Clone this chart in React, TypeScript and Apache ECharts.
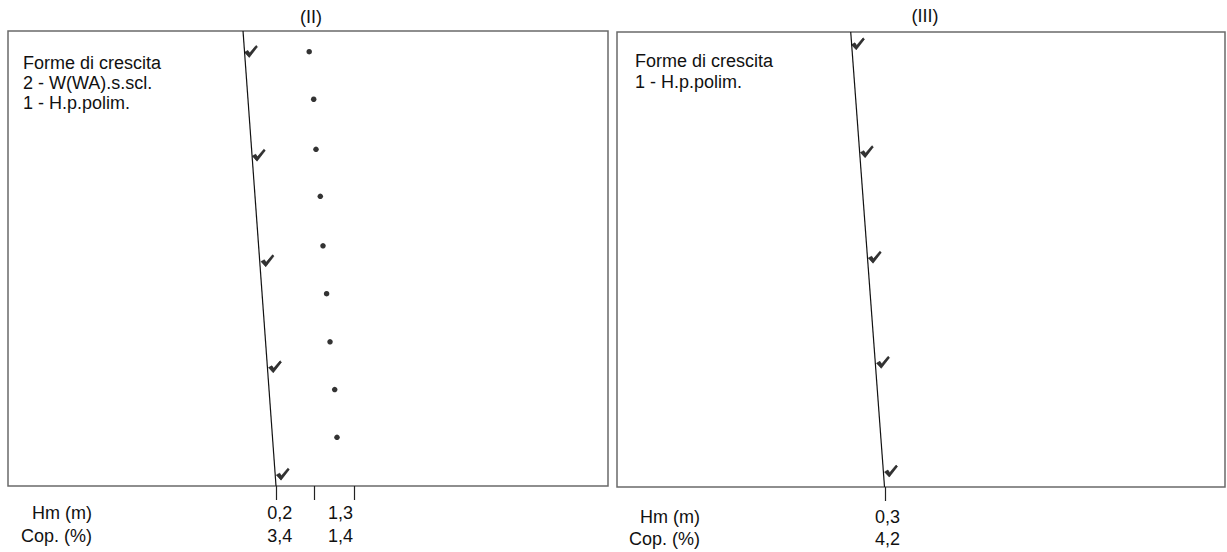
import React, { useEffect, useRef } from "react";
import * as echarts from "echarts";

// ---------- data ----------
const panelTitles = ["(II)", "(III)"];
const legendII = ["Forme di crescita", "2 - W(WA).s.scl.", "1 - H.p.polim."];
const legendIII = ["Forme di crescita", "1 - H.p.polim."];
const rowNames = ["Hm (m)", "Cop. (%)"];

// Panel (II) — positions in % of panel width (x) and height from bottom (y)
const lineII: number[][] = [[39.17, 100], [44.67, 0]];
const checksII: number[][] = [[40.5, 95.5], [41.8, 72.7], [43.25, 49.5], [44.5, 26.2], [45.8, 2.6]];
const dotsII: number[][] = [
  [50.2, 95.45], [50.95, 85.0], [51.33, 74.0], [52.05, 63.67], [52.5, 52.8],
  [53.1, 42.26], [53.67, 31.7], [54.45, 21.2], [54.83, 10.7],
];
const ticksII = [44.67, 51.0, 57.67];
const labelPosII = [45.3, 55.4];
const hmII = ["0,2", "1,3"];
const copII = ["3,4", "1,4"];

// Panel (III)
const lineIII: number[][] = [[38.44, 100], [44.0, 0]];
const checksIII: number[][] = [[39.64, 97.4], [41.1, 73.7], [42.4, 50.5], [43.75, 27.4], [45.07, 3.5]];
const ticksIII = [44.08];
const labelPosIII = [44.49];
const hmIII = ["0,3"];
const copIII = ["4,2"];

const FONT = "'Liberation Sans', Arial, Helvetica, sans-serif";
const INK = "#111";
const CHECK = "path://M0,6.6 L3.3,4.8 L5,7.3 L11.2,0 L12.6,1.3 L4.6,11.6 Z";

function makeXAxis(gridIndex: number, ticks: number[], labelPos: number[], hm: string[], cop: string[], margin: number, lh: number) {
  return {
    type: "value",
    gridIndex,
    min: 0,
    max: 100,
    axisLine: { show: false },
    splitLine: { show: false },
    axisTick: {
      show: true,
      customValues: ticks,
      length: 14,
      lineStyle: { color: "#222", width: 1.2 },
    },
    axisLabel: {
      show: true,
      customValues: labelPos,
      margin,
      fontSize: 18,
      lineHeight: lh,
      fontFamily: FONT,
      color: INK,
      formatter: (v: number) => {
        let i = labelPos.findIndex((p) => Math.abs(p - v) < 1e-6);
        if (i < 0) i = 0;
        return hm[i] + "\n" + cop[i];
      },
    },
  };
}

export default function App() {
  const ref = useRef<HTMLDivElement>(null);
  useEffect(() => {
    document.body.style.margin = "0";
    if (!ref.current) return;
    const chart = echarts.init(ref.current, null, { renderer: "svg" });
    const checkStyle = { color: "#000", borderColor: "#000", borderWidth: 0.6 };
    const option: any = {
      animation: false,
      backgroundColor: "#fff",
      grid: [
        { left: 8, top: 31, width: 600, height: 455, show: true, borderColor: "#6a6a6a", borderWidth: 1.5, backgroundColor: "transparent" },
        { left: 617, top: 32, width: 608, height: 455, show: true, borderColor: "#6a6a6a", borderWidth: 1.5, backgroundColor: "transparent" },
      ],
      xAxis: [
        makeXAxis(0, ticksII, labelPosII, hmII, copII, 15.5, 23),
        makeXAxis(1, ticksIII, labelPosIII, hmIII, copIII, 18.5, 22),
      ],
      yAxis: [
        { type: "value", gridIndex: 0, min: 0, max: 100, show: false },
        { type: "value", gridIndex: 1, min: 0, max: 100, show: false },
      ],
      series: [
        { type: "line", xAxisIndex: 0, yAxisIndex: 0, data: lineII, symbol: "none", lineStyle: { color: INK, width: 1.2 } },
        { type: "scatter", xAxisIndex: 0, yAxisIndex: 0, data: checksII, symbol: CHECK, symbolSize: [13, 12], itemStyle: checkStyle },
        { type: "scatter", xAxisIndex: 0, yAxisIndex: 0, data: dotsII, symbol: "circle", symbolSize: 5.5, itemStyle: { color: "#000" } },
        { type: "line", xAxisIndex: 1, yAxisIndex: 1, data: lineIII, symbol: "none", lineStyle: { color: INK, width: 1.2 } },
        { type: "scatter", xAxisIndex: 1, yAxisIndex: 1, data: checksIII, symbol: CHECK, symbolSize: [13, 12], itemStyle: checkStyle },
      ],
      graphic: [
        { type: "text", x: 311, y: 17, style: { text: panelTitles[0], font: `18px ${FONT}`, fill: INK, align: "center", textAlign: "center", verticalAlign: "middle", textVerticalAlign: "middle" } },
        { type: "text", x: 925, y: 16, style: { text: panelTitles[1], font: `18px ${FONT}`, fill: INK, align: "center", textAlign: "center", verticalAlign: "middle", textVerticalAlign: "middle" } },
        { type: "text", x: 23, y: 53, style: { text: legendII.join("\n"), font: `18px ${FONT}`, lineHeight: 20, fill: INK, align: "left", textAlign: "left", verticalAlign: "top", textVerticalAlign: "top" } },
        { type: "text", x: 635, y: 50, style: { text: legendIII.join("\n"), font: `18px ${FONT}`, lineHeight: 21, fill: INK, align: "left", textAlign: "left", verticalAlign: "top", textVerticalAlign: "top" } },
        { type: "text", x: 92, y: 501.5, style: { text: rowNames.join("\n"), font: `18px ${FONT}`, lineHeight: 23, fill: INK, align: "right", textAlign: "right", verticalAlign: "top", textVerticalAlign: "top" } },
        { type: "text", x: 700, y: 506, style: { text: rowNames.join("\n"), font: `18px ${FONT}`, lineHeight: 22, fill: INK, align: "right", textAlign: "right", verticalAlign: "top", textVerticalAlign: "top" } },
      ],
    };
    chart.setOption(option);
    return () => chart.dispose();
  }, []);
  return <div ref={ref} style={{ width: 1227, height: 552 }} />;
}
